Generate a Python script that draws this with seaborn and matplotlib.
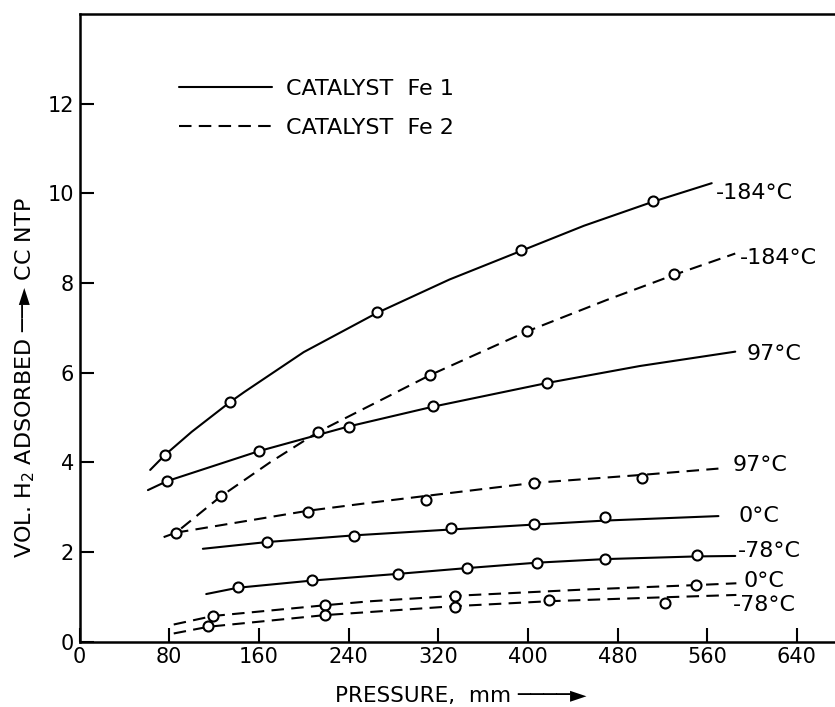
import matplotlib
matplotlib.use("Agg")
import matplotlib.pyplot as plt
from matplotlib.lines import Line2D
import pandas as pd
import seaborn as sns

# ── Smooth-curve traces (pressure mm, vol H2 cc NTP) ──────────────────────────
fe1_m184_line_p = [63, 76, 100, 134, 147, 200, 265, 330, 394, 450, 512, 564]
fe1_m184_line_v = [3.83, 4.16, 4.68, 5.34, 5.57, 6.46, 7.33, 8.08, 8.72, 9.28, 9.82, 10.23]
fe1_97_line_p = [61, 78, 160, 240, 315, 417, 500, 585]
fe1_97_line_v = [3.38, 3.58, 4.25, 4.80, 5.24, 5.77, 6.15, 6.47]
fe1_0_line_p = [110, 167, 245, 331, 405, 469, 570]
fe1_0_line_v = [2.07, 2.22, 2.37, 2.50, 2.61, 2.70, 2.80]
fe1_m78_line_p = [113, 141, 207, 284, 346, 408, 469, 551, 585]
fe1_m78_line_v = [1.06, 1.20, 1.36, 1.51, 1.64, 1.76, 1.84, 1.90, 1.91]

fe2_m184_line_p = [75, 86, 126, 170, 213, 313, 399, 470, 530, 585]
fe2_m184_line_v = [2.33, 2.43, 3.24, 4.00, 4.68, 5.95, 6.92, 7.62, 8.18, 8.66]
fe2_97_line_p = [86, 204, 260, 309, 405, 502, 570]
fe2_97_line_v = [2.43, 2.92, 3.10, 3.25, 3.54, 3.72, 3.86]
fe2_0_line_p = [84, 119, 219, 260, 335, 450, 550, 586]
fe2_0_line_v = [0.38, 0.57, 0.81, 0.90, 1.02, 1.16, 1.26, 1.30]
fe2_m78_line_p = [84, 115, 219, 335, 419, 500, 586]
fe2_m78_line_v = [0.18, 0.33, 0.59, 0.79, 0.90, 0.97, 1.04]

# ── Measured points (open circles) ───────────────────────────────────────────
fe1_m184_pts_p = [76, 134, 265, 394, 512]
fe1_m184_pts_v = [4.16, 5.34, 7.36, 8.74, 9.84]
fe1_97_pts_p = [78, 160, 240, 315, 417]
fe1_97_pts_v = [3.59, 4.25, 4.79, 5.26, 5.78]
fe1_0_pts_p = [167, 245, 331, 405, 469]
fe1_0_pts_v = [2.23, 2.35, 2.53, 2.62, 2.77]
fe1_m78_pts_p = [141, 207, 284, 346, 408, 469, 551]
fe1_m78_pts_v = [1.21, 1.37, 1.51, 1.65, 1.76, 1.85, 1.94]

fe2_m184_pts_p = [86, 126, 213, 313, 399, 530]
fe2_m184_pts_v = [2.43, 3.24, 4.68, 5.95, 6.94, 8.20]
fe2_97_pts_p = [204, 309, 405, 502]
fe2_97_pts_v = [2.90, 3.16, 3.54, 3.64]
fe2_0_pts_p = [119, 219, 335, 550]
fe2_0_pts_v = [0.58, 0.81, 1.02, 1.26]
fe2_m78_pts_p = [115, 219, 335, 419, 522]
fe2_m78_pts_v = [0.35, 0.59, 0.78, 0.93, 0.87]

# ── End-of-curve temperature labels ──────────────────────────────────────────
label_text = ["-184°C", "-184°C", "97°C", "97°C", "0°C", "-78°C", "0°C", "-78°C"]
label_p = [568, 589, 595, 583, 588, 587, 592, 583]
label_v = [10.0, 8.56, 6.41, 3.94, 2.81, 2.02, 1.36, 0.81]

x_ticks = [0, 80, 160, 240, 320, 400, 480, 560, 640]
y_ticks = [0, 2, 4, 6, 8, 10, 12]

curves = [
    ("Fe 1", "-184", fe1_m184_line_p, fe1_m184_line_v, fe1_m184_pts_p, fe1_m184_pts_v),
    ("Fe 1", "97", fe1_97_line_p, fe1_97_line_v, fe1_97_pts_p, fe1_97_pts_v),
    ("Fe 1", "0", fe1_0_line_p, fe1_0_line_v, fe1_0_pts_p, fe1_0_pts_v),
    ("Fe 1", "-78", fe1_m78_line_p, fe1_m78_line_v, fe1_m78_pts_p, fe1_m78_pts_v),
    ("Fe 2", "-184", fe2_m184_line_p, fe2_m184_line_v, fe2_m184_pts_p, fe2_m184_pts_v),
    ("Fe 2", "97", fe2_97_line_p, fe2_97_line_v, fe2_97_pts_p, fe2_97_pts_v),
    ("Fe 2", "0", fe2_0_line_p, fe2_0_line_v, fe2_0_pts_p, fe2_0_pts_v),
    ("Fe 2", "-78", fe2_m78_line_p, fe2_m78_line_v, fe2_m78_pts_p, fe2_m78_pts_v),
]

line_rows, pt_rows = [], []
for cat, temp, lp, lv, pp, pv in curves:
    for p, v in zip(lp, lv):
        line_rows.append({"catalyst": cat, "curve": f"{cat} {temp}", "pressure": p, "vol": v})
    for p, v in zip(pp, pv):
        pt_rows.append({"catalyst": cat, "curve": f"{cat} {temp}", "pressure": p, "vol": v})
lines_df = pd.DataFrame(line_rows)
pts_df = pd.DataFrame(pt_rows)

sns.set_style("ticks")
plt.rcParams["font.family"] = ["DejaVu Sans"]
for key in ["text.color", "axes.labelcolor", "axes.edgecolor", "xtick.color", "ytick.color"]:
    plt.rcParams[key] = "black"

fig = plt.figure(figsize=(8.35, 7.07), dpi=100)
ax = fig.add_axes([0.0953, 0.0926, 0.9047, 0.8872])

dash_style = {"Fe 1": "", "Fe 2": (6, 3.5)}
sns.lineplot(
    data=lines_df, x="pressure", y="vol", style="catalyst", units="curve",
    estimator=None, sort=False, color="black", dashes=dash_style,
    linewidth=1.5, legend=False, ax=ax,
)
sns.scatterplot(
    data=pts_df, x="pressure", y="vol", marker="o", s=52,
    facecolor="white", edgecolor="black", linewidth=1.5, zorder=3,
    legend=False, ax=ax,
)

for txt, p, v in zip(label_text, label_p, label_v):
    ax.text(p, v, txt, fontsize=16, ha="left", va="center")

ax.set_xlim(0, 674)
ax.set_ylim(0, 14)
ax.set_xticks(x_ticks)
ax.set_yticks(y_ticks)
ax.tick_params(direction="in", length=10, width=1.5, labelsize=15, pad=4)
for side in ["left", "bottom", "top"]:
    ax.spines[side].set_linewidth(1.8)
ax.spines["right"].set_visible(False)

ax.set_xlabel("PRESSURE,  mm ────►", fontsize=15.5)
ax.xaxis.set_label_coords(0.505, -0.097)
ax.xaxis.label.set_va("baseline")
ax.set_ylabel("VOL. H$_2$ ADSORBED ──► CC NTP", fontsize=16)
ax.yaxis.set_label_coords(-0.072, 0.421)
ax.yaxis.label.set_va("center")

handles = [
    Line2D([], [], color="black", linewidth=1.5),
    Line2D([], [], color="black", linewidth=1.5, dashes=(6, 3.5)),
]
ax.legend(
    handles, ["CATALYST  Fe 1", "CATALYST  Fe 2"], loc="upper left",
    bbox_to_anchor=(0.1316, 0.897), frameon=False, fontsize=16,
    handlelength=4.2, handletextpad=0.6, borderpad=0, borderaxespad=0,
    labelspacing=0.85,
)

fig.savefig("out.png", dpi=100)
